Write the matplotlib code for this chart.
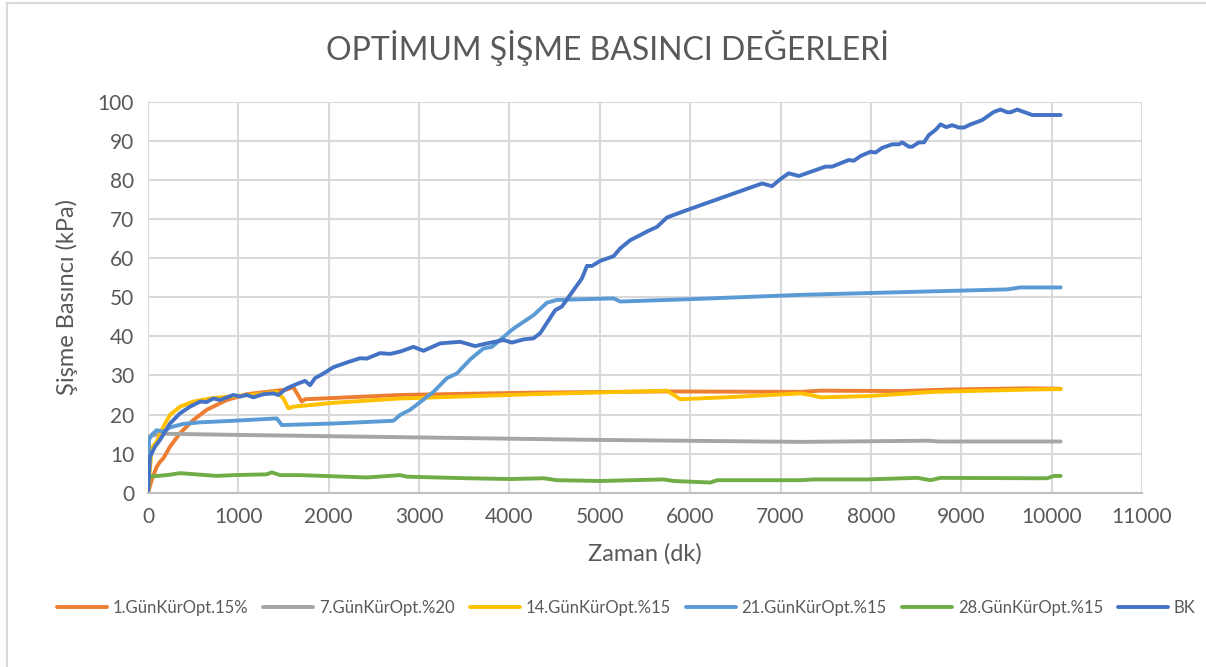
import matplotlib
matplotlib.use("Agg")
import matplotlib.pyplot as plt
from matplotlib.lines import Line2D

plt.rcParams['font.family'] = ['Lato', 'DejaVu Sans']

# swelling pressure (kPa) against time (min), one curve per curing series
x_gun1 = [0, 41, 96, 133, 170, 244, 354, 502, 650, 871, 1093, 1314, 1536, 1609, 1702, 1738,
          2791, 4267, 5744, 7220, 7442, 8328, 8882, 9731, 10100]
y_gun1 = [0, 3.2, 6.6, 7.9, 8.8, 11.8, 15.2, 18.6, 21.2, 23.7, 25.2, 25.8, 26.4, 27.0, 23.3, 23.9,
          25.0, 25.6, 25.9, 25.8, 26.1, 26.0, 26.4, 26.7, 26.6]

x_gun7 = [0, 4, 133, 945, 2791, 5006, 7220, 8643, 8750, 10100]
y_gun7 = [0, 14.3, 15.1, 14.8, 14.2, 13.5, 13.0, 13.3, 13.1, 13.1]

x_gun14 = [0, 41, 96, 170, 244, 354, 502, 687, 945, 1240, 1425, 1499, 1554, 1609, 2052, 2791,
           4267, 5744, 5891, 6482, 7220, 7331, 7442, 7959, 8697, 9804, 10100]
y_gun14 = [0, 11.4, 13.0, 16.9, 19.9, 22.0, 23.3, 24.1, 24.7, 25.2, 25.8, 24.1, 21.6, 22.0, 23.0,
           24.1, 25.2, 26.1, 23.9, 24.5, 25.4, 25.0, 24.4, 24.7, 25.8, 26.4, 26.5]

x_gun21 = [0, 11, 41, 96, 170, 244, 391, 576, 945, 1425, 1481, 2052, 2717, 2791, 2901, 3160,
           3308, 3419, 3566, 3713, 3806, 4046, 4267, 4415, 4526, 5153, 5227, 6002, 7220, 8513,
           9509, 9657, 10100]
y_gun21 = [0, 13.5, 14.8, 16.0, 15.6, 16.7, 17.6, 18.0, 18.4, 19.0, 17.3, 17.7, 18.4, 19.9, 21.2,
           25.8, 29.3, 30.5, 34.1, 36.9, 37.3, 42.0, 45.4, 48.6, 49.3, 49.7, 48.9, 49.5, 50.6,
           51.4, 52.0, 52.5, 52.5]

x_gun28 = [0, 4, 207, 354, 760, 945, 1314, 1370, 1462, 1684, 2421, 2791, 2865, 3530, 4008,
           4378, 4526, 5006, 5707, 5818, 6224, 6298, 7220, 7368, 7959, 8513, 8661, 8771, 9804,
           9952, 10026, 10100]
y_gun28 = [0, 4.1, 4.5, 5.0, 4.3, 4.5, 4.7, 5.2, 4.5, 4.5, 3.9, 4.5, 4.1, 3.7, 3.5, 3.7, 3.2,
           3.0, 3.4, 3.0, 2.6, 3.2, 3.2, 3.4, 3.4, 3.8, 3.2, 3.8, 3.7, 3.7, 4.3, 4.3]

x_bk = [0, 22, 78, 133, 244, 354, 465, 576, 650, 723, 797, 945, 1019, 1093, 1166, 1277, 1388,
        1443, 1536, 1646, 1738, 1794, 1849, 1942, 2052, 2200, 2348, 2421, 2569, 2680, 2791,
        2938, 3049, 3234, 3455, 3621, 3751, 3935, 4027, 4156, 4267, 4341, 4507, 4580, 4802,
        4858, 4913, 5006, 5153, 5227, 5338, 5449, 5522, 5634, 5744, 5966, 6796, 6906, 6999,
        7091, 7202, 7497, 7571, 7755, 7811, 7885, 7995, 8051, 8125, 8236, 8310, 8347, 8421,
        8458, 8532, 8587, 8643, 8716, 8771, 8834, 8900, 8974, 9030, 9103, 9232, 9361, 9435,
        9509, 9546, 9620, 9786, 10100]
y_bk = [0, 9.2, 11.8, 13.5, 17.7, 20.3, 22.0, 23.3, 23.2, 24.1, 23.7, 25.0, 24.6, 25.0, 24.4,
        25.2, 25.4, 25.0, 26.7, 27.8, 28.6, 27.5, 29.3, 30.5, 32.1, 33.3, 34.4, 34.3, 35.7,
        35.5, 36.1, 37.3, 36.3, 38.2, 38.6, 37.5, 38.2, 39.05, 38.4, 39.2, 39.5, 40.8, 46.7,
        47.6, 54.8, 58.0, 58.0, 59.3, 60.5, 62.5, 64.6, 65.9, 66.8, 68.0, 70.4, 72.3, 79.1,
        78.4, 80.2, 81.7, 81.0, 83.4, 83.4, 85.1, 84.9, 86.1, 87.2, 87.0, 88.2, 89.1, 89.1,
        89.6, 88.5, 88.5, 89.6, 89.6, 91.5, 92.8, 94.2, 93.5, 94.0, 93.4, 93.4, 94.2, 95.3,
        97.4, 98.0, 97.3, 97.3, 98.0, 96.6, 96.6]

series = [
    ("1.GünKürOpt.15%", x_gun1, y_gun1, "#ED7D31"),
    ("7.GünKürOpt.%20", x_gun7, y_gun7, "#A5A5A5"),
    ("14.GünKürOpt.%15", x_gun14, y_gun14, "#FFC000"),
    ("21.GünKürOpt.%15", x_gun21, y_gun21, "#5B9BD5"),
    ("28.GünKürOpt.%15", x_gun28, y_gun28, "#70AD47"),
    ("BK", x_bk, y_bk, "#4472C4"),
]

text_color = "#595959"
grid_color = "#D9D9D9"

fig = plt.figure(figsize=(12.06, 6.67), dpi=100)
ax = fig.add_axes([0.1227, 0.2613, 0.8242, 0.5862])

for label, xs, ys, color in series:
    ax.plot(xs, ys, color=color, lw=2.8, label=label, solid_capstyle="round", solid_joinstyle="round")

ax.set_xlim(0, 11000)
ax.set_ylim(0, 100)
ax.set_xticks(range(0, 11001, 1000))
ax.set_yticks(range(0, 101, 10))
ax.grid(True, color=grid_color, lw=1.5)
ax.set_axisbelow(True)
for side in ("top", "right", "left"):
    ax.spines[side].set_visible(False)
ax.spines["bottom"].set_color("#BFBFBF")
ax.spines["bottom"].set_linewidth(1.5)
ax.tick_params(length=0, labelsize=15, colors=text_color, pad=10)

ax.set_xlabel("Zaman (dk)", fontsize=17, color=text_color, labelpad=12)
ax.set_ylabel("Şişme Basıncı (kPa)", fontsize=17, color=text_color, labelpad=14)

fig.text(0.5037, 0.928, "OPTİMUM ŞİŞME BASINCI DEĞERLERİ", ha="center", va="center",
         fontsize=23, color=text_color)

fig.legend(loc="center", bbox_to_anchor=(0.5192, 0.0885), ncol=6, frameon=False,
           fontsize=12, labelcolor=text_color, handlelength=3.0, handletextpad=0.35,
           columnspacing=0.9)

# outer chart frame
fig.add_artist(Line2D([7 / 1206, 1], [1 - 3 / 667] * 2, color=grid_color, lw=1.5,
                      transform=fig.transFigure))
fig.add_artist(Line2D([7 / 1206] * 2, [0, 1 - 3 / 667], color=grid_color, lw=1.5,
                      transform=fig.transFigure))

fig.savefig("out.png", dpi=100)
